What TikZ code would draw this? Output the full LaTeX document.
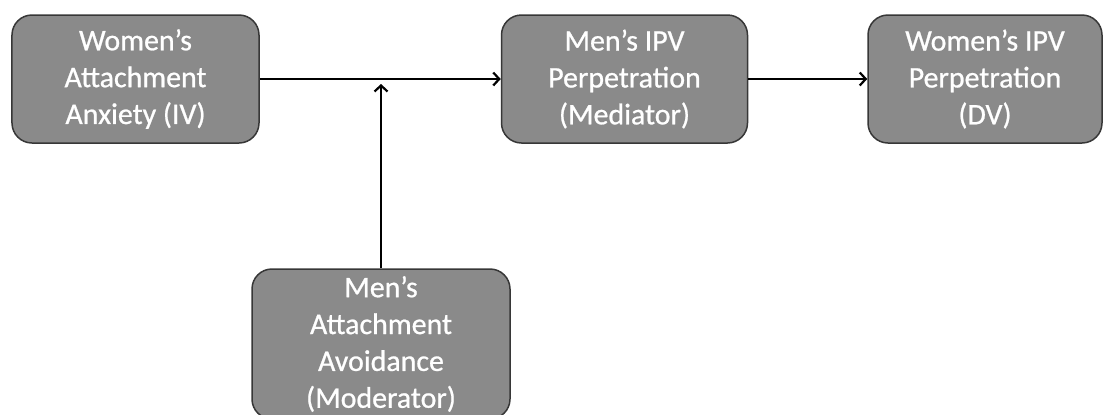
\documentclass[tikz,border=0pt]{standalone}
\usepackage{fontspec}
\setmainfont{Carlito}
\newfontfamily\boxfont[FakeBold=0.8]{Carlito}
\usetikzlibrary{arrows.meta}
\definecolor{boxgray}{RGB}{138,138,138}
\definecolor{boxedge}{RGB}{55,55,55}
\begin{document}
\begin{tikzpicture}[x=1bp, y=-1bp,
    var/.style={draw=boxedge, fill=boxgray, line width=1.5bp, rounded corners=20bp,
      text=white, align=center, inner sep=0pt, font=\boxfont\fontsize{30}{37}\selectfont},
    link/.style={line width=1.4bp, -{Straight Barb[length=6bp,width=13bp,line width=2.2bp]}}]
    \useasboundingbox (0,0) rectangle (1104,414);
    \node[var, minimum width=247bp, minimum height=128bp] (anx) at (135.5,79) {Women’s\\Attachment\\Anxiety (IV)};
    \node[var, minimum width=246bp, minimum height=128bp] (med) at (624.5,79) {Men’s IPV\\Perpetration\\(Mediator)};
    \node[var, minimum width=234bp, minimum height=128bp] (dv) at (985,79) {Women’s IPV\\Perpetration\\(DV)};
    \node[var, minimum width=258bp, minimum height=150bp] (mod) at (381,344) {Men’s\\Attachment\\Avoidance\\(Moderator)};

    \coordinate (join) at (mod.north |- anx.east);
    \draw[link] (anx) -- (med);
    \draw[link] (med) -- (dv);
    \draw[link, shorten >=5bp] (mod) -- (join);
\end{tikzpicture}
\end{document}
